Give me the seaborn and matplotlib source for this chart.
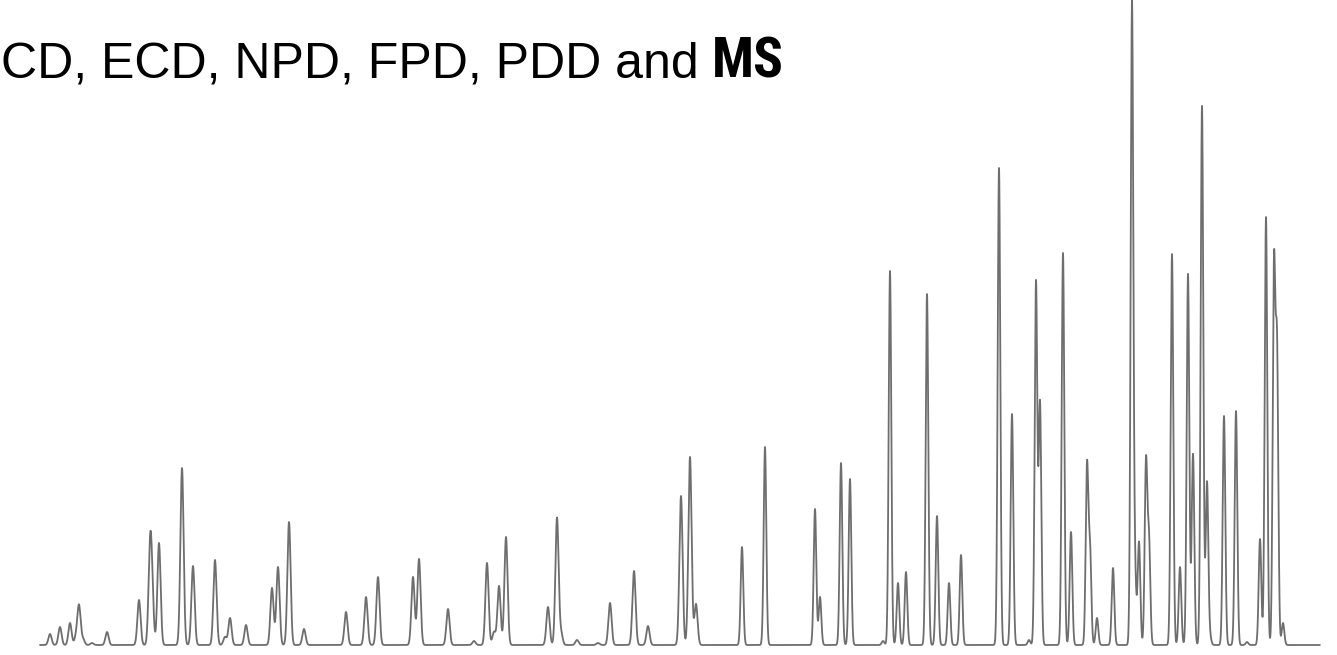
import numpy as np
import pandas as pd
import matplotlib
matplotlib.use("Agg")
import matplotlib.pyplot as plt
from matplotlib import font_manager
import seaborn as sns

# Peak retention positions (arbitrary time units) and peak heights (arbitrary response)
peak_times = [50, 60, 70, 76, 79, 83, 92, 107, 139, 150, 152, 159, 182, 193, 215, 225, 230,
              246, 272, 278, 289, 304, 346, 366, 378, 413, 419, 448, 474, 487, 494, 499,
              506, 548, 557, 561, 577, 598, 610, 634, 648, 681, 690, 696, 742, 765, 815,
              820, 841, 850, 883, 890, 898, 906, 927, 937, 949, 961, 999, 1012, 1029,
              1036, 1040, 1063, 1071, 1087, 1090, 1097, 1113, 1132, 1135, 1139, 1146,
              1149, 1172, 1180, 1188, 1193, 1202, 1207, 1210, 1224, 1236, 1247, 1260,
              1266, 1274, 1277, 1283]
peak_heights = [11, 18, 22, 8, 39, 6, 2, 13, 45, 86, 50, 102, 177, 79, 85, 8, 27,
                20, 57, 78, 123, 16, 33, 48, 68, 68, 86, 36, 4, 82, 13, 59,
                108, 38, 127, 12, 5, 2, 42, 74, 19, 149, 188, 41, 98, 198, 136,
                48, 182, 166, 4, 374, 62, 73, 351, 129, 62, 90, 477, 231, 5,
                363, 242, 392, 113, 178, 95, 27, 77, 640, 65, 103, 182,
                103, 391, 78, 371, 191, 539, 163, 8, 229, 234, 3, 106,
                428, 372, 290, 22]
run_start, run_end = 40, 1320
title_text = "CD, ECD, NPD, FPD, PDD and "
title_bold = "MS"

# detector trace built from the peak table
t = np.arange(run_start, run_end, 0.1)
signal = np.zeros_like(t)
for c, h in zip(peak_times, peak_heights):
    sig = 1.6 if c < 700 else 1.3
    signal += h * np.exp(-0.5 * ((t - c) / sig) ** 2)
df = pd.DataFrame({"time": t, "signal": signal})

sns.set_theme(style="white")
plt.rcParams["font.family"] = ["Liberation Sans", "DejaVu Sans"]

available = {f.name for f in font_manager.fontManager.ttflist}
bold_family = "Liberation Sans"
for cand in ["Roboto Condensed", "Archivo Narrow", "Liberation Sans"]:
    if cand in available:
        bold_family = cand
        break

fig = plt.figure(figsize=(13.37, 6.55), dpi=100)
ax = fig.add_axes([0, 0, 1, 1])
sns.lineplot(data=df, x="time", y="signal", ax=ax, color="#6e6e6e", lw=1.3,
             estimator=None, sort=False)
ax.set_xlim(0, 1337)
ax.set_ylim(-10, 645)
ax.axis("off")

base_y = 1 - 78 / 655
txt = fig.text(1 / 1337, base_y, title_text, fontsize=36, color="black",
               ha="left", va="baseline")
fig.canvas.draw()
r = fig.canvas.get_renderer()
bb = txt.get_window_extent(renderer=r)
fig.text((bb.x1 - 1) / fig.bbox.width, base_y, title_bold, fontsize=40,
         fontweight=900, family=[bold_family, "DejaVu Sans"], color="black",
         ha="left", va="baseline")

fig.savefig("out.png", dpi=100, facecolor="white")
